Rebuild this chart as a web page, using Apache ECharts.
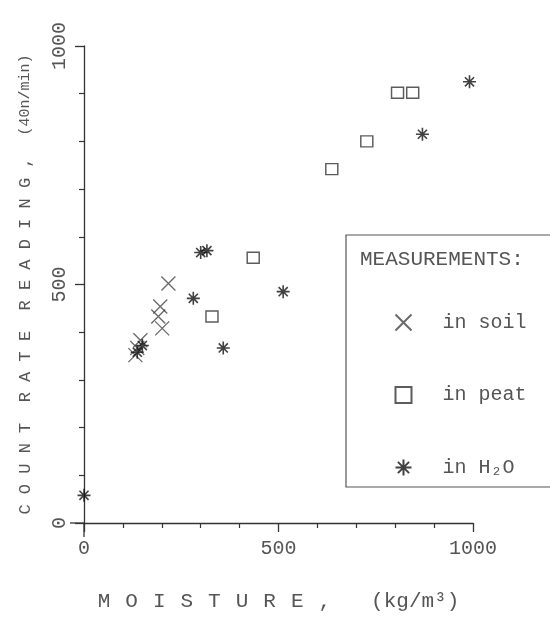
<!DOCTYPE html>
<html><head><meta charset="utf-8">
<script src="https://cdn.jsdelivr.net/npm/echarts@6/dist/echarts.min.js"></script>
<style>html,body{margin:0;padding:0;background:#fff}#c{width:550px;height:619px}</style>
</head><body><div id="c"></div>
<script>
// ---- data ----
const soilPoints = [[132,352],[137,367],[145,383],[191,433],[196,454],[201,408],[217,502]];
const peatPoints = [[329,433],[435,556],[637,742],[727,800],[806,902],[845,902]];
const waterPoints = [[0,58],[137,358],[150,372],[281,471],[300,567],[316,571],[358,367],[512,485],[870,815],[991,925]];
const seriesNames = ['in soil','in peat','in H₂O'];
const xTickLabels = [0,500,1000];
const yTickLabels = [0,500,1000];

const FONT = '"Liberation Mono","DejaVu Sans Mono",monospace';
const INK = '#333';
const TXT = '#555';
const crossPath = 'path://M0,0L10,10M10,0L0,10';
const starPath = 'path://M5,0L5,10M0,5L10,5M1.5,1.5L8.5,8.5M8.5,1.5L1.5,8.5';

function spaced(word){ // letter-spaced rich string
  return word.split('').map(ch=>'{a|'+ch+'}').join('{s| }');
}

const chart = echarts.init(document.getElementById('c'), null, {renderer:'canvas'});
const option = {
  animation:false,
  backgroundColor:'#fff',
  grid:{left:84,right:77,top:46,bottom:93,containLabel:false},
  title:{text:'MEASUREMENTS:',left:355,top:244,textStyle:{fontFamily:FONT,fontSize:21,fontWeight:'normal',color:TXT}},
  legend:{
    orient:'vertical',left:388,top:307,itemGap:52,itemWidth:16,itemHeight:16,
    textStyle:{fontFamily:FONT,fontSize:20,color:TXT,padding:[0,0,0,26]},
    data:seriesNames
  },
  xAxis:{
    type:'value',min:0,max:1000,interval:500,
    axisLine:{lineStyle:{color:INK,width:1.3}},
    axisTick:{length:9,lineStyle:{color:INK,width:1.3}},
    minorTick:{show:true,splitNumber:5,length:5,lineStyle:{color:INK,width:1.2}},
    splitLine:{show:false},
    axisLabel:{fontFamily:FONT,fontSize:20,color:TXT,margin:16,
      formatter:v=>xTickLabels.includes(v)?String(v):''},
    name: spaced('MOISTURE,') + '{g| }{b|(kg/m³)}',
    nameLocation:'middle',nameGap:66,
    nameTextStyle:{rich:{
      a:{fontFamily:FONT,fontSize:21,color:TXT},
      s:{fontFamily:FONT,fontSize:25,color:TXT},
      g:{fontFamily:FONT,fontSize:21,color:TXT,width:40},
      b:{fontFamily:FONT,fontSize:21,color:TXT}}}
  },
  yAxis:{
    type:'value',min:0,max:1000,interval:500,
    axisLine:{lineStyle:{color:INK,width:1.3}},
    axisTick:{length:9,lineStyle:{color:INK,width:1.3}},
    minorTick:{show:true,splitNumber:5,length:5,lineStyle:{color:INK,width:1.2}},
    splitLine:{show:false},
    axisLabel:{fontFamily:FONT,fontSize:20,color:TXT,margin:14,rotate:90,
      formatter:v=>yTickLabels.includes(v)?String(v):''},
    name:'{a|C O U N T  R A T E  R E A D I N G ,}{g| }{b|(40n/min)}',
    nameLocation:'middle',nameGap:50,nameRotate:90,
    nameTextStyle:{rich:{
      a:{fontFamily:FONT,fontSize:17,color:TXT},
      g:{fontFamily:FONT,fontSize:17,color:TXT,width:22},
      b:{fontFamily:FONT,fontSize:15,color:TXT}}}
  },
  series:[
    {name:seriesNames[0],type:'scatter',data:soilPoints,symbol:crossPath,symbolSize:14,
     itemStyle:{color:'none',borderColor:'#444',borderWidth:1.3}},
    {name:seriesNames[1],type:'scatter',data:peatPoints,symbol:'rect',symbolSize:[12,11],
     itemStyle:{color:'#fff',borderColor:'#333',borderWidth:1.4}},
    {name:seriesNames[2],type:'scatter',data:waterPoints,symbol:starPath,symbolSize:13,
     itemStyle:{color:'none',borderColor:'#111',borderWidth:1.6}}
  ]
};
chart.setOption(option);
// axis-line extensions past the origin and legend frame
const o = chart.convertToPixel({gridIndex:0},[0,0]);
chart.setOption({graphic:[
  {type:'line',shape:{x1:o[0]-14,y1:o[1],x2:o[0],y2:o[1]},style:{stroke:INK,lineWidth:1.3},silent:true},
  {type:'line',shape:{x1:o[0],y1:o[1],x2:o[0],y2:o[1]+14},style:{stroke:INK,lineWidth:1.3},silent:true},
  {type:'polyline',shape:{points:[[552,235],[346,235],[346,487],[552,487]]},style:{stroke:'#555',lineWidth:1.2,fill:null},silent:true}
]});
</script></body></html>
